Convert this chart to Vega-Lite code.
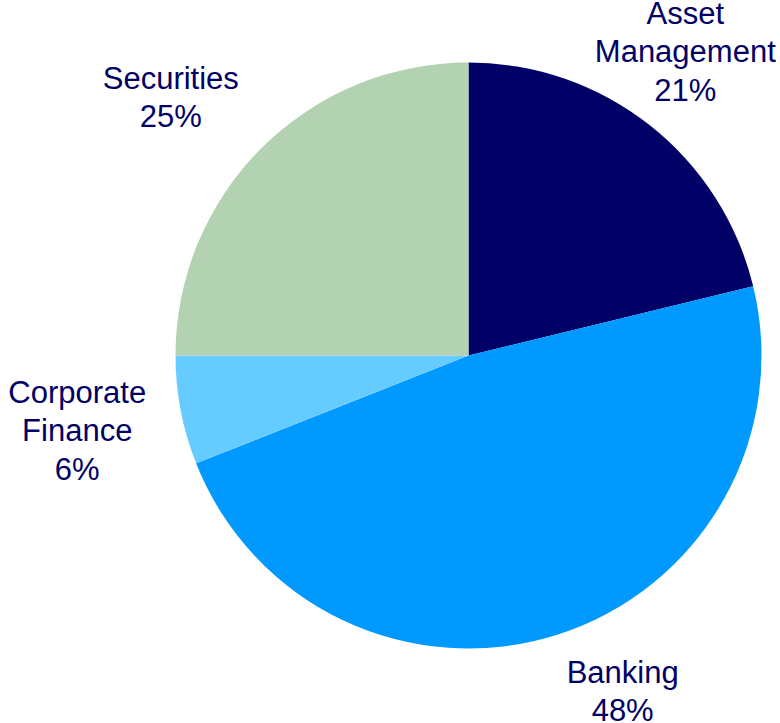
{
  "$schema": "https://vega.github.io/schema/vega-lite/v6.json",
  "width": 623,
  "height": 711,
  "autosize": {"type": "none"},
  "padding": {"left": 157, "top": 0, "right": 0, "bottom": 12},
  "background": "white",
  "view": {"stroke": null},
  "config": {"text": {"font": "Liberation Sans", "fontSize": 31, "lineHeight": 38.5, "color": "#000066"}},
  "data": {"values": [
    {"segment": "Asset Management", "value": 21.2, "order": 1},
    {"segment": "Banking", "value": 47.8, "order": 2},
    {"segment": "Corporate Finance", "value": 6.0, "order": 3},
    {"segment": "Securities", "value": 25.0, "order": 4}
  ]},
  "layer": [
    {
      "mark": {"type": "arc", "outerRadius": 293, "stroke": null},
      "encoding": {
        "theta": {"field": "value", "type": "quantitative", "stack": true, "scale": {"domain": [0, 100]}},
        "order": {"field": "order", "type": "quantitative"},
        "color": {"field": "segment", "type": "nominal", "legend": null,
          "scale": {"domain": ["Asset Management", "Banking", "Corporate Finance", "Securities"],
                    "range": ["#000066", "#0099FF", "#66CCFF", "#B2D2B2"]}}
      }
    },
    {
      "transform": [
        {"stack": "value", "groupby": [], "sort": [{"field": "order"}], "as": ["v0", "v1"]},
        {"calculate": "(datum.v0 + datum.v1) / 2", "as": "mid"},
        {"calculate": "replace(datum.segment, ' ', '\\n') + '\\n' + format(datum.value / 100, '.0%')", "as": "label"},
        {"filter": "datum.segment == 'Asset Management'"}
      ],
      "mark": {"type": "text", "radius": 380, "align": "center", "baseline": "middle", "lineBreak": "\n", "dx": -18, "dy": -42},
      "encoding": {
        "theta": {"field": "mid", "type": "quantitative", "stack": null, "scale": {"domain": [0, 100]}},
        "text": {"field": "label"}
      }
    },
    {
      "transform": [
        {"stack": "value", "groupby": [], "sort": [{"field": "order"}], "as": ["v0", "v1"]},
        {"calculate": "(datum.v0 + datum.v1) / 2", "as": "mid"},
        {"calculate": "replace(datum.segment, ' ', '\\n') + '\\n' + format(datum.value / 100, '.0%')", "as": "label"},
        {"filter": "datum.segment == 'Banking'"}
      ],
      "mark": {"type": "text", "radius": 380, "align": "center", "baseline": "middle", "lineBreak": "\n", "dx": 39, "dy": -44},
      "encoding": {
        "theta": {"field": "mid", "type": "quantitative", "stack": null, "scale": {"domain": [0, 100]}},
        "text": {"field": "label"}
      }
    },
    {
      "transform": [
        {"stack": "value", "groupby": [], "sort": [{"field": "order"}], "as": ["v0", "v1"]},
        {"calculate": "(datum.v0 + datum.v1) / 2", "as": "mid"},
        {"calculate": "replace(datum.segment, ' ', '\\n') + '\\n' + format(datum.value / 100, '.0%')", "as": "label"},
        {"filter": "datum.segment == 'Corporate Finance'"}
      ],
      "mark": {"type": "text", "radius": 380, "align": "center", "baseline": "middle", "lineBreak": "\n", "dx": -18, "dy": -33},
      "encoding": {
        "theta": {"field": "mid", "type": "quantitative", "stack": null, "scale": {"domain": [0, 100]}},
        "text": {"field": "label"}
      }
    },
    {
      "transform": [
        {"stack": "value", "groupby": [], "sort": [{"field": "order"}], "as": ["v0", "v1"]},
        {"calculate": "(datum.v0 + datum.v1) / 2", "as": "mid"},
        {"calculate": "replace(datum.segment, ' ', '\\n') + '\\n' + format(datum.value / 100, '.0%')", "as": "label"},
        {"filter": "datum.segment == 'Securities'"}
      ],
      "mark": {"type": "text", "radius": 380, "align": "center", "baseline": "middle", "lineBreak": "\n", "dx": -29, "dy": -7},
      "encoding": {
        "theta": {"field": "mid", "type": "quantitative", "stack": null, "scale": {"domain": [0, 100]}},
        "text": {"field": "label"}
      }
    }
  ]
}
